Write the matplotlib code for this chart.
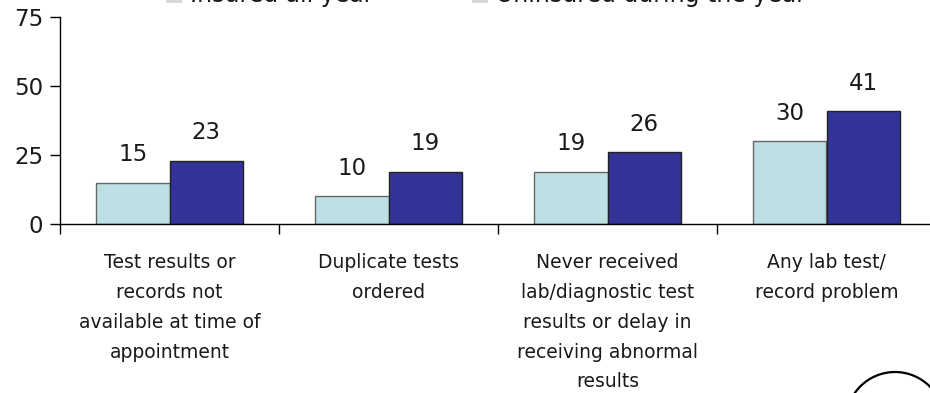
import matplotlib
matplotlib.use('Agg')
import numpy as np
import matplotlib.pyplot as plt
from matplotlib.patches import Ellipse, Rectangle

categories = [
    'Test results or\nrecords not\navailable at time of\nappointment',
    'Duplicate tests\nordered',
    'Never received\nlab/diagnostic test\nresults or delay in\nreceiving abnormal\nresults',
    'Any lab test/\nrecord problem',
]
series_names = ['Insured all year', 'Uninsured during the year']
insured = [15, 10, 19, 30]
uninsured = [23, 19, 26, 41]
y_ticks = [0, 25, 50, 75]

light = '#bce0e3'
dark = '#333399'

W, H = 930, 393
fig = plt.figure(figsize=(W / 100, H / 100), dpi=100)
ax = fig.add_axes([60 / W, (H - 224) / H, 876 / W, 207 / H])

x = np.arange(len(categories))
bw = 0.336
b1 = ax.bar(x - bw / 2, insured, bw, color=light, edgecolor='#666666', linewidth=1)
b2 = ax.bar(x + bw / 2, uninsured, bw, color=dark, edgecolor='#222222', linewidth=1)

for bars, vals in ((b1, insured), (b2, uninsured)):
    for rect, v in zip(bars, vals):
        ax.annotate(str(v), (rect.get_x() + rect.get_width() / 2, v),
                    xytext=(0, 20), textcoords='offset points',
                    ha='center', va='center', fontsize=16.5, color='#1a1a1a')

ax.set_xlim(-0.5, len(categories) - 0.5)
ax.set_ylim(0, 75)
ax.set_yticks(y_ticks)
ax.set_yticklabels([str(t) for t in y_ticks], fontsize=16.5, color='#1a1a1a')
ax.tick_params(axis='y', direction='out', length=7, width=1, pad=5)

# boundary ticks between groups, labels drawn as free text below
ax.set_xticks(np.arange(len(categories) + 1) - 0.5)
ax.set_xticklabels([])
ax.tick_params(axis='x', direction='out', length=7, width=1)

for xi, lab in zip(x, categories):
    ax.annotate(lab, (xi, 0), xytext=(0, -21), textcoords='offset points',
                ha='center', va='top', fontsize=13.5, linespacing=1.72,
                color='#1a1a1a', annotation_clip=False)

for s in ('top', 'right'):
    ax.spines[s].set_visible(False)
ax.spines['left'].set_linewidth(1)
ax.spines['bottom'].set_linewidth(1)

# legend row, mostly above the top edge
for x0, name in ((166, series_names[0]), (472, series_names[1])):
    fig.patches.append(Rectangle((x0 / W, (H - 3) / H), 16 / W, 16 / H,
                                 transform=fig.transFigure, facecolor='#d9d9d9',
                                 edgecolor='none'))
    fig.text((x0 + 24) / W, (H - 2) / H, name, fontsize=17, va='baseline',
             ha='left', color='#1a1a1a')

fig.patches.append(Ellipse((895 / W, -28 / H), 98 / W, 98 / H,
                           transform=fig.transFigure, fill=False,
                           edgecolor='black', linewidth=1.6))

fig.savefig('out.png', dpi=100)
